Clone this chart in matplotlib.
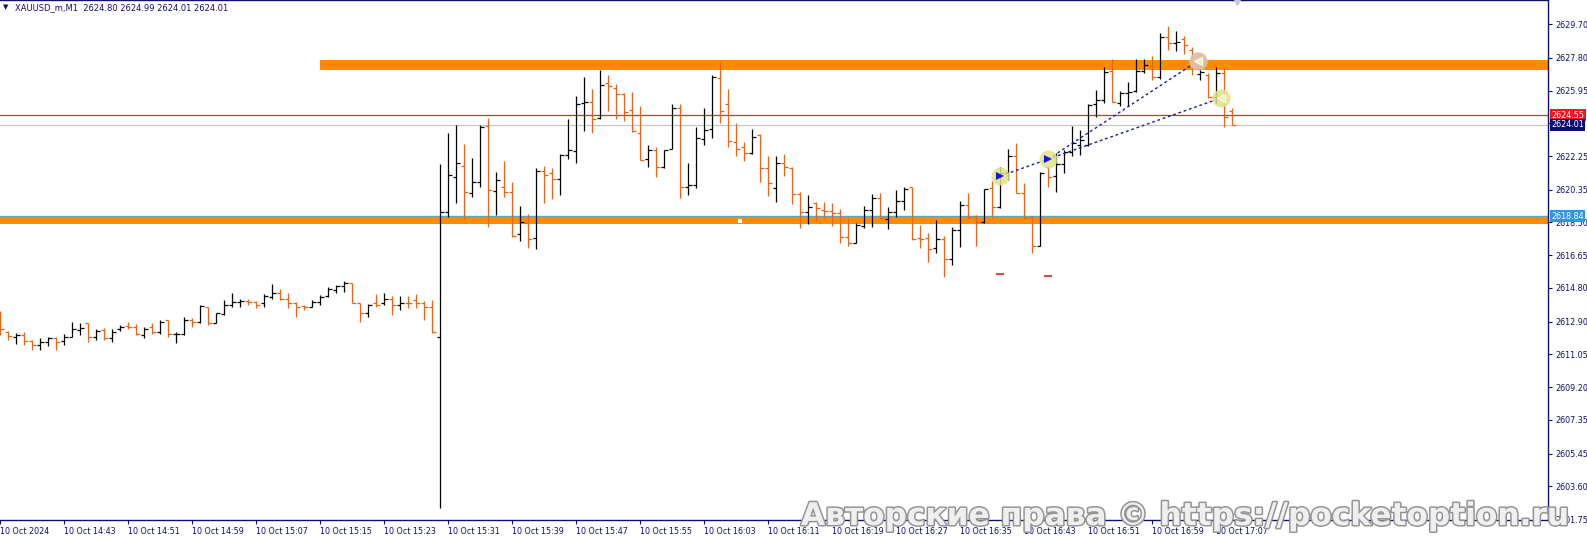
# XAUUSD M1 bar chart (MT4 style)

import numpy as np
import matplotlib
matplotlib.use('Agg')
import matplotlib.pyplot as plt
import matplotlib.patheffects as pe

# OHLC per 1-minute bar, 10 Oct 14:35 .. 17:09
opens = [2613.36, 2612.33, 2612.01, 2612.14, 2611.82, 2611.58, 2611.76, 2611.95, 2611.82, 2612.05,
         2612.42, 2612.80, 2612.05, 2612.42, 2611.95, 2612.46, 2612.65, 2612.61, 2612.14, 2612.57,
         2612.33, 2612.99, 2612.20, 2612.23, 2612.99, 2612.89, 2613.70, 2612.84, 2613.33, 2613.83,
         2614.02, 2614.08, 2614.02, 2613.93, 2614.30, 2614.49, 2614.15, 2613.93, 2613.78, 2613.74,
         2614.02, 2614.34, 2614.68, 2614.91, 2615.06, 2613.93, 2613.36, 2613.97, 2613.93, 2614.15,
         2613.83, 2613.97, 2614.12, 2613.93, 2613.70, 2612.05, 2619.11, 2621.05, 2621.69, 2620.14,
         2620.76, 2623.94, 2620.29, 2620.52, 2620.20, 2617.85, 2618.45, 2617.60, 2621.42, 2621.27,
         2620.95, 2622.31, 2622.53, 2625.22, 2625.28, 2624.38, 2626.35, 2626.07, 2625.75, 2624.85,
         2623.57, 2622.06, 2622.59, 2621.61, 2622.63, 2624.94, 2620.52, 2620.61, 2623.19, 2623.76,
         2626.63, 2625.19, 2623.06, 2622.74, 2622.40, 2623.44, 2621.55, 2620.42, 2621.84, 2621.55,
         2620.10, 2619.07, 2619.58, 2619.20, 2619.14, 2619.02, 2617.70, 2617.36, 2618.30, 2619.20,
         2619.86, 2618.68, 2619.11, 2619.73, 2620.48, 2617.60, 2617.60, 2617.04, 2617.55, 2616.42,
         2618.07, 2619.49, 2618.86, 2618.54, 2620.43, 2619.35, 2621.37, 2622.25, 2620.18, 2618.83,
         2617.17, 2621.65, 2621.12, 2621.80, 2622.50, 2622.87, 2622.87, 2625.19, 2625.41, 2627.07,
         2625.26, 2625.83, 2625.94, 2627.07, 2627.33, 2626.73, 2628.99, 2628.65, 2628.84, 2628.24,
         2626.88, 2626.82, 2625.56, 2626.96, 2624.80]
highs = [2613.51, 2612.37, 2612.27, 2612.33, 2611.86, 2611.99, 2612.05, 2612.05, 2612.20, 2612.86,
         2612.80, 2612.84, 2612.46, 2612.52, 2612.46, 2612.70, 2612.89, 2612.76, 2612.57, 2612.84,
         2613.02, 2613.02, 2612.33, 2613.14, 2613.08, 2613.83, 2613.74, 2613.40, 2614.12, 2614.49,
         2614.15, 2614.15, 2614.08, 2614.45, 2615.02, 2614.72, 2614.49, 2614.02, 2613.83, 2614.12,
         2614.40, 2614.87, 2614.96, 2615.21, 2615.09, 2613.93, 2613.89, 2614.45, 2614.49, 2614.34,
         2614.34, 2614.34, 2614.45, 2614.08, 2614.12, 2621.80, 2623.57, 2624.00, 2622.93, 2622.12,
         2624.00, 2624.41, 2621.37, 2621.99, 2620.80, 2619.45, 2618.98, 2621.55, 2621.69, 2621.55,
         2622.34, 2624.32, 2625.64, 2626.73, 2626.01, 2627.11, 2626.82, 2626.31, 2625.79, 2625.88,
         2625.07, 2622.87, 2622.74, 2622.59, 2625.19, 2625.19, 2621.84, 2623.91, 2624.94, 2626.82,
         2627.58, 2626.01, 2624.13, 2623.06, 2623.77, 2623.49, 2622.25, 2622.25, 2622.36, 2621.65,
         2620.24, 2620.05, 2619.67, 2619.67, 2619.58, 2619.24, 2618.73, 2618.45, 2619.43, 2620.11,
         2620.18, 2619.39, 2620.33, 2620.48, 2620.48, 2618.36, 2617.92, 2618.64, 2617.74, 2618.22,
         2619.73, 2620.18, 2618.92, 2620.37, 2620.86, 2621.65, 2622.63, 2623.00, 2620.71, 2618.86,
         2621.37, 2621.69, 2622.40, 2622.59, 2623.95, 2623.72, 2625.19, 2625.98, 2627.30, 2627.71,
         2625.94, 2626.45, 2627.71, 2627.71, 2627.90, 2629.21, 2629.59, 2629.33, 2629.03, 2628.39,
         2627.52, 2626.96, 2627.26, 2627.20, 2624.99]
lows = [2612.14, 2611.86, 2611.63, 2611.58, 2611.29, 2611.29, 2611.52, 2611.29, 2611.58, 2612.05,
        2612.14, 2611.76, 2611.86, 2611.86, 2611.74, 2612.38, 2612.46, 2612.14, 2611.95, 2612.23,
        2612.23, 2612.05, 2611.71, 2612.14, 2612.61, 2612.84, 2612.70, 2612.80, 2613.27, 2613.74,
        2613.74, 2613.83, 2613.65, 2613.70, 2614.15, 2614.12, 2613.65, 2613.18, 2613.55, 2613.74,
        2613.83, 2614.30, 2614.53, 2614.59, 2613.93, 2612.89, 2613.14, 2613.74, 2613.83, 2613.27,
        2613.55, 2613.65, 2613.65, 2612.99, 2612.27, 2602.40, 2618.82, 2619.62, 2618.67, 2619.92,
        2620.48, 2618.22, 2618.92, 2619.95, 2617.70, 2617.47, 2617.08, 2617.00, 2619.62, 2619.80,
        2620.05, 2622.06, 2621.87, 2623.68, 2623.53, 2624.32, 2624.81, 2624.36, 2624.24, 2623.62,
        2622.02, 2621.65, 2621.08, 2621.55, 2622.63, 2619.86, 2620.05, 2620.42, 2622.87, 2623.25,
        2624.13, 2622.78, 2622.27, 2621.99, 2622.36, 2620.80, 2619.99, 2619.67, 2621.12, 2619.54,
        2618.17, 2618.41, 2618.60, 2618.73, 2618.32, 2617.36, 2617.17, 2617.32, 2618.17, 2618.26,
        2618.73, 2618.11, 2618.79, 2619.20, 2617.51, 2617.04, 2616.29, 2616.79, 2615.44, 2616.10,
        2617.13, 2618.68, 2617.17, 2618.49, 2618.73, 2619.30, 2620.90, 2620.18, 2618.73, 2616.76,
        2617.17, 2620.52, 2620.24, 2621.31, 2622.25, 2622.31, 2622.82, 2624.43, 2625.22, 2625.32,
        2625.07, 2625.07, 2625.88, 2626.96, 2626.54, 2626.58, 2628.24, 2628.20, 2628.01, 2626.82,
        2626.54, 2625.51, 2625.22, 2623.91, 2624.01]
closes = [2612.46, 2612.08, 2612.14, 2611.82, 2611.58, 2611.76, 2611.95, 2611.76, 2612.05, 2612.46,
          2612.52, 2612.05, 2612.38, 2611.95, 2612.33, 2612.61, 2612.57, 2612.20, 2612.46, 2612.33,
          2612.89, 2612.20, 2612.23, 2612.99, 2612.89, 2613.78, 2612.80, 2613.36, 2613.83, 2614.02,
          2614.08, 2614.02, 2613.83, 2614.34, 2614.49, 2614.15, 2613.93, 2613.74, 2613.70, 2614.02,
          2614.30, 2614.77, 2614.91, 2615.09, 2613.93, 2613.36, 2613.83, 2613.83, 2614.15, 2613.83,
          2613.97, 2613.93, 2613.93, 2613.70, 2612.33, 2619.11, 2621.18, 2621.84, 2620.20, 2620.76,
          2623.91, 2620.33, 2620.89, 2620.20, 2617.73, 2618.50, 2617.54, 2621.42, 2621.18, 2620.95,
          2622.31, 2622.59, 2625.19, 2625.28, 2624.32, 2626.26, 2626.22, 2625.75, 2624.72, 2623.66,
          2622.02, 2622.59, 2621.65, 2622.59, 2624.94, 2620.48, 2620.61, 2623.25, 2623.72, 2626.69,
          2624.81, 2623.10, 2622.63, 2622.40, 2623.34, 2621.55, 2620.71, 2621.84, 2621.61, 2620.10,
          2619.07, 2619.39, 2619.30, 2619.14, 2619.05, 2617.70, 2617.36, 2618.36, 2619.20, 2619.86,
          2618.73, 2619.11, 2619.73, 2620.37, 2617.55, 2617.55, 2616.98, 2617.55, 2616.42, 2618.07,
          2619.49, 2618.79, 2618.54, 2620.37, 2619.35, 2621.27, 2622.25, 2620.18, 2618.73, 2617.17,
          2621.31, 2621.08, 2621.80, 2622.50, 2623.00, 2623.15, 2625.13, 2625.41, 2627.01, 2625.32,
          2625.83, 2625.88, 2627.07, 2627.39, 2626.73, 2628.99, 2628.61, 2628.71, 2628.52, 2627.39,
          2627.01, 2625.56, 2626.92, 2624.43, 2624.01]

tick_labels = ['10 Oct 2024', '10 Oct 14:43', '10 Oct 14:51', '10 Oct 14:59', '10 Oct 15:07',
               '10 Oct 15:15', '10 Oct 15:23', '10 Oct 15:31', '10 Oct 15:39', '10 Oct 15:47',
               '10 Oct 15:55', '10 Oct 16:03', '10 Oct 16:11', '10 Oct 16:19', '10 Oct 16:27',
               '10 Oct 16:35', '10 Oct 16:43', '10 Oct 16:51', '10 Oct 16:59', '10 Oct 17:07']
price_ticks = [2629.70, 2627.80, 2625.95, 2624.10, 2622.25, 2620.35, 2618.50, 2616.65,
               2614.80, 2612.90, 2611.05, 2609.20, 2607.35, 2605.45, 2603.60, 2601.75]
hidden_tick = 2624.10   # covered by the bid/ask labels

# levels
upper_zone = [2627.11, 2627.67]
upper_zone_start = 40
lower_zone = [2618.39, 2618.80]
support_line = 2618.84
ask_line = 2624.55
bid_line = 2624.01

# trades: entry (bar, price) -> exit (bar, price)
entry_x = [125, 131]
entry_y = [2621.12, 2622.08]
exit_x = [152.6, 149.7]
exit_y = [2625.53, 2627.62]
stop_x = [125, 131]
stop_y = [2615.59, 2615.48]

NAVY = '#10106e'
ORANGE = '#e4661c'

o = np.array(opens); h = np.array(highs); l = np.array(lows); c = np.array(closes)
x = np.arange(len(o))

fig = plt.figure(figsize=(15.87, 5.41), dpi=100)
ax = fig.add_axes([0, 21 / 541, 1548 / 1587, 520 / 541])
ax.set_xlim(-0.04, 193.46)
ax.set_ylim(2601.70, 2631.06)

# levels and zones
ax.fill_between([upper_zone_start, 200], upper_zone[0], upper_zone[1], color='#ff8c00', lw=0, zorder=1)
ax.fill_between([-1, 200], lower_zone[0], lower_zone[1], color='#ff8c00', lw=0, zorder=1)
ax.axhline(support_line, color='#56a6c6', lw=1, zorder=1.2)
ax.axhline(ask_line, color='#d83030', lw=0.9, zorder=1.2)
ax.axhline(bid_line, color='#c8c8c8', lw=0.9, zorder=1.2)
ax.plot([92.46], [2618.58], 's', color='white', ms=2.2, mew=0, zorder=1.5)

# OHLC bars
cols = np.where(c >= o, 'black', ORANGE)
ax.vlines(x, l, h, colors=cols, lw=0.9, zorder=3)
ax.hlines(o, x - 0.42, x, colors=cols, lw=0.9, zorder=3)
ax.hlines(c, x, x + 0.42, colors=cols, lw=0.9, zorder=3)

# trade markers
for i in range(2):
    ax.plot([entry_x[i], exit_x[i]], [entry_y[i], exit_y[i]], color='#1c1ca0', lw=1,
            ls=(0, (2, 2)), zorder=4)
ax.plot(entry_x + exit_x, entry_y + exit_y, 'o', color='#e2e286', ms=13, alpha=0.85, mew=0, zorder=4.5)
ax.plot([exit_x[1]], [exit_y[1]], 'o', color='#dcb4b4', ms=13, alpha=0.7, mew=0, zorder=4.6)
ax.plot(entry_x, entry_y, '>', color='#1414e6', ms=5.5, mew=0, zorder=5)
ax.hlines(entry_y, np.array(entry_x) - 0.55, entry_x, colors='#1414e6', lw=2, zorder=5)
ax.plot(exit_x, exit_y, '<', mfc='#f4ecc8', mec='#fffff0', ms=6, mew=0.8, zorder=5)
ax.hlines(stop_y, np.array(stop_x) - 0.5, np.array(stop_x) + 0.5, colors='#d02020', lw=1.2, zorder=5)

# chart shift marker
ax.plot([154.6], [2631.06], 'v', color='#c8c8dc', ms=7, clip_on=False, zorder=6)

# axes styling
ax.spines['left'].set_visible(False)
for s in ['top', 'right', 'bottom']:
    ax.spines[s].set_color(NAVY)
    ax.spines[s].set_linewidth(1)
ax.yaxis.tick_right()
ax.set_yticks(price_ticks)
ax.set_yticklabels(['' if p == hidden_tick else '%.2f' % p for p in price_ticks])
ax.tick_params(axis='y', which='both', length=3, width=0.8, color=NAVY, labelcolor=NAVY,
               labelsize=5.8, pad=2)
ax.set_xticks(np.arange(len(tick_labels)) * 8)
ax.set_xticklabels(tick_labels, ha='left')
ax.tick_params(axis='x', length=3, width=0.8, color=NAVY, labelcolor=NAVY, labelsize=5.8, pad=2)

# price labels on the axis
ytr = ax.get_yaxis_transform()
for val, fc in [(ask_line, '#e81c1c'), (bid_line, '#0a0a78'), (support_line, '#2d96e6')]:
    ax.text(1.002, val, '%.2f' % val, transform=ytr, ha='left', va='center', color='white',
            fontsize=5.8, clip_on=False, zorder=7,
            bbox=dict(boxstyle='square,pad=0.18', fc=fc, ec='none'))

# header
fig.text(3 / 1587, 1 - 7.5 / 541, '\u25bc', color=NAVY, fontsize=5, va='center', ha='left')
fig.text(15 / 1587, 1 - 7.5 / 541, 'XAUUSD_m,M1  2624.80 2624.99 2624.01 2624.01', color=NAVY,
         fontsize=6, va='center', ha='left')

# watermark
fig.text(801 / 1587, 1 - 525 / 541, 'Авторские права © https://pocketoption.ru', fontsize=22.5,
         fontweight='bold', color='#efefef', ha='left', va='baseline', zorder=10,
         path_effects=[pe.withStroke(linewidth=2.2, foreground='#959595')])

fig.savefig('out.png', dpi=100)
